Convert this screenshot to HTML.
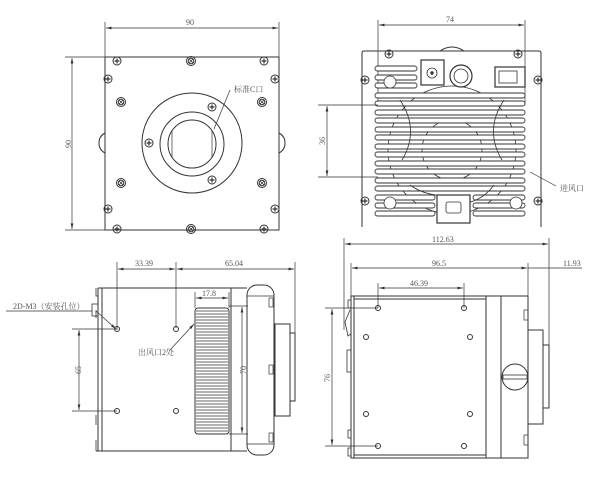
<!DOCTYPE html>
<html><head><meta charset="utf-8"><style>
html,body{margin:0;padding:0;background:#fff;width:600px;height:490px;overflow:hidden}
svg{display:block}
text{font-family:"Liberation Serif","Noto Serif CJK SC",serif;font-size:8px;fill:#555}
</style></head><body>
<svg width="600" height="490" viewBox="0 0 600 490" xmlns="http://www.w3.org/2000/svg">
<defs>
<marker id="a" viewBox="0 0 8 4" refX="8" refY="2" markerWidth="8" markerHeight="4" orient="auto-start-reverse"><path d="M0,0L8,2L0,4z" fill="#333"/></marker>
<g id="scr"><circle r="4" fill="none" stroke="#333" stroke-width="1"/><path d="M-2.5,0H2.5M0,-2.5V2.5" stroke="#333" stroke-width="1.2"/></g>
<g id="scr2"><circle r="4.5" fill="none" stroke="#333"/><circle r="2.8" fill="none" stroke="#333"/><path d="M-2,-2L2,2M-2,2L2,-2" stroke="#333" stroke-width=".8"/></g>
<g id="hole"><circle r="2.5" fill="none" stroke="#333"/></g>
</defs>
<g stroke="#333" fill="none" stroke-width="1">
<line x1="105" y1="22" x2="105" y2="57" stroke-width=".7"/><line x1="279" y1="22" x2="279" y2="57" stroke-width=".7"/>
<line x1="106" y1="28" x2="278" y2="28" marker-start="url(#a)" marker-end="url(#a)" stroke-width=".7"/>
<line x1="65" y1="57" x2="279" y2="57" stroke-width=".7"/><line x1="65" y1="230" x2="105" y2="230" stroke-width=".7"/>
<line x1="72" y1="58" x2="72" y2="229" marker-start="url(#a)" marker-end="url(#a)" stroke-width=".7"/>
<rect x="105" y="57" width="174" height="173"/>
<path d="M105,133 q-6,3 -6,10 q0,7 6,10" /><path d="M279,133 q6,3 6,10 q0,7 -6,10"/>
<circle cx="192" cy="143" r="50"/><circle cx="192" cy="144" r="32"/><circle cx="192" cy="144" r="24"/>
<path d="M172,131 V157 M212,131 V157" stroke-width=".7"/>
<line x1="230" y1="90" x2="214" y2="129" stroke-width=".7"/>
</g>
<g>
<use href="#scr" x="117" y="61"/><use href="#scr2" x="191" y="61"/><use href="#scr" x="264" y="61"/>
<use href="#scr" x="108" y="79"/><use href="#scr" x="275" y="79"/>
<use href="#scr2" x="121" y="102"/><use href="#scr2" x="262" y="102"/>
<use href="#scr2" x="121" y="183"/><use href="#scr2" x="262" y="183"/>
<use href="#scr" x="108" y="209"/><use href="#scr" x="275" y="209"/>
<use href="#scr" x="117" y="229"/><use href="#scr2" x="191" y="229"/><use href="#scr" x="264" y="229"/>
<use href="#scr" x="212" y="107"/><use href="#scr" x="149" y="143"/><use href="#scr" x="212" y="180"/>
</g>
<text x="186" y="25">90</text>
<text x="0" y="0" transform="translate(71,148) rotate(-90)">90</text>
<text x="234" y="92" font-size="7">标准C口</text>

<g stroke="#333" fill="none" stroke-width="1">
<line x1="378" y1="20" x2="378" y2="105" stroke-width=".7"/><line x1="525" y1="20" x2="525" y2="105" stroke-width=".7"/>
<line x1="379" y1="25" x2="524" y2="25" marker-start="url(#a)" marker-end="url(#a)" stroke-width=".7"/>
<path d="M362,53 q0,-2 2,-2 H539 q2,0 2,2 V227 M362,53 V227"/>
<path d="M440,51 q12,-8 24,0"/>
<circle cx="452" cy="150" r="64" stroke-width=".8"/>
<circle cx="452" cy="150" r="30" stroke-width=".8"/>
</g>
<g stroke="#333" fill="#fff" stroke-width=".9">
<rect x="375" y="66" width="42" height="5" rx="2.5"/><rect x="375" y="75" width="42" height="5" rx="2.5"/><rect x="375" y="83" width="42" height="5" rx="2.5"/>
<rect x="375" y="93" width="150" height="5" rx="2.5"/>
<rect x="375" y="101" width="150" height="5" rx="2.5"/>
<rect x="375" y="110" width="150" height="5" rx="2.5"/>
<rect x="375" y="118" width="150" height="5" rx="2.5"/>
<rect x="375" y="127" width="150" height="5" rx="2.5"/>
<rect x="375" y="135" width="150" height="5" rx="2.5"/>
<rect x="375" y="144" width="150" height="5" rx="2.5"/>
<rect x="375" y="152" width="150" height="5" rx="2.5"/>
<rect x="375" y="161" width="150" height="5" rx="2.5"/>
<rect x="375" y="169" width="150" height="5" rx="2.5"/>
<rect x="375" y="178" width="150" height="5" rx="2.5"/>
<rect x="375" y="186" width="150" height="5" rx="2.5"/>
<rect x="375" y="195" width="60" height="5" rx="2.5"/><rect x="473" y="195" width="52" height="5" rx="2.5"/>
<rect x="375" y="203" width="60" height="5" rx="2.5"/><rect x="473" y="203" width="52" height="5" rx="2.5"/>
<rect x="375" y="211" width="60" height="5" rx="2.5"/><rect x="473" y="211" width="52" height="5" rx="2.5"/>
</g>
<g stroke="#333" fill="none" stroke-width=".8">
<path d="M400,100 Q420,130 402,160 M504,100 Q484,130 502,160 M410,185 Q430,200 470,195 M494,185 Q480,205 450,205" />
<circle cx="390" cy="82" r="6" fill="#fff"/><circle cx="516" cy="203" r="6" fill="#fff"/><circle cx="390" cy="203" r="6" fill="#fff"/>
<rect x="421" y="60" width="23" height="25" fill="#fff" stroke-width="1.2"/><circle cx="432" cy="73" r="5"/><circle cx="432" cy="73" r="1.3" fill="#333"/>
<circle cx="461" cy="76" r="11" fill="#fff" stroke-width="1.2"/><circle cx="461" cy="76" r="7"/>
<rect x="495" y="67" width="30" height="20" fill="#fff" stroke-width="1.2"/><rect x="499" y="71" width="18" height="12"/>
<rect x="437" y="195" width="33" height="28" fill="#fff" stroke-width="1.2"/><rect x="446" y="202" width="15" height="11" rx="2"/>
<line x1="318" y1="105" x2="378" y2="105" stroke-width=".7"/><line x1="318" y1="177" x2="378" y2="177" stroke-width=".7"/>
<line x1="327" y1="106" x2="327" y2="176" marker-start="url(#a)" marker-end="url(#a)" stroke-width=".7"/>
<line x1="530" y1="172" x2="556" y2="186" stroke-width=".7"/>
</g>
<g>
<use href="#scr" x="389" y="54"/><use href="#scr" x="518" y="54"/>
<use href="#scr" x="365" y="80"/><use href="#scr" x="538" y="80"/>
<use href="#scr" x="365" y="201"/><use href="#scr" x="538" y="201"/>
</g>
<text x="446" y="22">74</text>
<text transform="translate(325,145) rotate(-90)">36</text>
<text x="560" y="191" font-size="7">进风口</text>

<g stroke="#333" fill="none" stroke-width="1">
<line x1="117" y1="262" x2="117" y2="330" stroke-width=".7"/><line x1="176" y1="262" x2="176" y2="328" stroke-width=".7"/><line x1="295" y1="262" x2="295" y2="340" stroke-width=".7"/>
<line x1="118" y1="269" x2="175" y2="269" marker-start="url(#a)" marker-end="url(#a)" stroke-width=".7"/>
<line x1="177" y1="269" x2="294" y2="269" marker-start="url(#a)" marker-end="url(#a)" stroke-width=".7"/>
<path d="M98,288 H247 M96,451 H247 M98,288 V451 M102,288 V451 M231,288 V451"/>
<path d="M96,288 V296 h2 M96,310 V318 M96,415 V425 M96,440 V451" stroke-width=".8"/>
<rect x="92" y="304" width="6" height="12" stroke-width=".8"/>
<rect x="195" y="308" width="34" height="126" rx="3"/>
<rect x="247" y="285" width="27" height="170" rx="10"/>
<path d="M247,296 H274 M247,444 H274" stroke-width=".7"/>
<rect x="269" y="298" width="4" height="9" stroke-width=".7"/><rect x="269" y="365" width="4" height="9" stroke-width=".7"/><rect x="269" y="433" width="4" height="9" stroke-width=".7"/>
<rect x="275" y="324" width="15" height="92"/><rect x="290" y="333" width="5" height="68"/>
<line x1="196" y1="298" x2="228" y2="298" marker-start="url(#a)" marker-end="url(#a)" stroke-width=".7"/>
<line x1="195" y1="292" x2="195" y2="308" stroke-width=".7"/><line x1="229" y1="292" x2="229" y2="308" stroke-width=".7"/>
<line x1="229" y1="306" x2="248" y2="306" stroke-width=".7"/><line x1="229" y1="434" x2="248" y2="434" stroke-width=".7"/>
<line x1="242" y1="307" x2="242" y2="433" marker-start="url(#a)" marker-end="url(#a)" stroke-width=".7"/>
<line x1="72" y1="329" x2="117" y2="329" stroke-width=".7"/><line x1="72" y1="411" x2="117" y2="411" stroke-width=".7"/>
<line x1="79" y1="330" x2="79" y2="410" marker-start="url(#a)" marker-end="url(#a)" stroke-width=".7"/>
<line x1="6" y1="311" x2="92" y2="311" stroke-width=".7"/>
<line x1="96" y1="311" x2="116" y2="329" stroke-width=".7" marker-end="url(#a)"/>
<line x1="170" y1="350" x2="194" y2="324" stroke-width=".7" marker-end="url(#a)"/>
</g>
<g stroke="#333" stroke-width=".8">
<path d="M196,311H228M196,314H228M196,317H228M196,320H228M196,323H228M196,326H228M196,329H228M196,332H228M196,335H228M196,338H228M196,341H228M196,344H228M196,347H228M196,350H228M196,353H228M196,356H228M196,359H228M196,362H228M196,365H228M196,368H228M196,371H228M196,374H228M196,377H228M196,380H228M196,383H228M196,386H228M196,389H228M196,392H228M196,395H228M196,398H228M196,401H228M196,404H228M196,407H228M196,410H228M196,413H228M196,416H228M196,419H228M196,422H228M196,425H228M196,428H228M196,431H228"/>
</g>
<g><use href="#hole" x="117" y="329"/><use href="#hole" x="176" y="329"/><use href="#hole" x="117" y="411"/><use href="#hole" x="176" y="411"/></g>
<text x="135" y="266">33.39</text><text x="225" y="266">65.04</text><text x="202" y="296" font-size="7">17.8</text>
<text transform="translate(246,374) rotate(-90)">70</text>
<text transform="translate(81,374) rotate(-90)">65</text>
<text x="13" y="309" font-size="7">2D-M3（安装孔位）</text>
<text x="138" y="355" font-size="7">出风口2处</text>

<g stroke="#333" fill="none" stroke-width="1">
<line x1="344" y1="238" x2="344" y2="330" stroke-width=".7"/><line x1="549" y1="238" x2="549" y2="345" stroke-width=".7"/>
<line x1="345" y1="244" x2="548" y2="244" marker-start="url(#a)" marker-end="url(#a)" stroke-width=".7"/>
<line x1="351" y1="263" x2="351" y2="296" stroke-width=".7"/><line x1="528" y1="263" x2="528" y2="296" stroke-width=".7"/>
<line x1="352" y1="268" x2="527" y2="268" marker-start="url(#a)" marker-end="url(#a)" stroke-width=".7"/>
<line x1="528" y1="268" x2="582" y2="268" stroke-width=".7"/>
<line x1="378" y1="283" x2="378" y2="308" stroke-width=".7"/><line x1="464" y1="283" x2="464" y2="308" stroke-width=".7"/>
<line x1="379" y1="288" x2="463" y2="288" marker-start="url(#a)" marker-end="url(#a)" stroke-width=".7"/>
<rect x="351" y="296" width="135" height="162"/>
<path d="M354,299 H486 M354,455 H486 M354,296 V458"/>
<path d="M486,296 H528 V458 H486 M501,296 V458"/>
<rect x="528" y="330" width="15" height="94"/><rect x="543" y="345" width="6" height="63"/>
<rect x="524" y="310" width="4" height="10" stroke-width=".7"/><rect x="524" y="435" width="4" height="10" stroke-width=".7"/>
<path d="M351,300 h-3 v8 h3 M351,430 h-3 v8 h3 M351,448 h-3 v8 h3 M351,350 h-4 v22 h4" stroke-width=".8"/>
<path d="M350,310 l-5,12 l3,14 l3,-2" stroke-width=".8"/>
<circle cx="515" cy="377" r="13"/><rect x="503" y="375" width="24" height="4" stroke-width=".8"/>
<line x1="325" y1="308" x2="378" y2="308" stroke-width=".7"/><line x1="325" y1="446" x2="378" y2="446" stroke-width=".7"/>
<line x1="332" y1="309" x2="332" y2="445" marker-start="url(#a)" marker-end="url(#a)" stroke-width=".7"/>
</g>
<g><use href="#hole" x="378" y="308"/><use href="#hole" x="464" y="308"/><use href="#hole" x="366" y="337"/><use href="#hole" x="470" y="337"/><use href="#hole" x="366" y="414"/><use href="#hole" x="470" y="414"/><use href="#hole" x="378" y="446"/><use href="#hole" x="464" y="446"/></g>
<text x="432" y="242">112.63</text><text x="432" y="266">96.5</text><text x="563" y="266">11.93</text><text x="410" y="286">46.39</text>
<text transform="translate(330,382) rotate(-90)">76</text>
</svg>
</body></html>
